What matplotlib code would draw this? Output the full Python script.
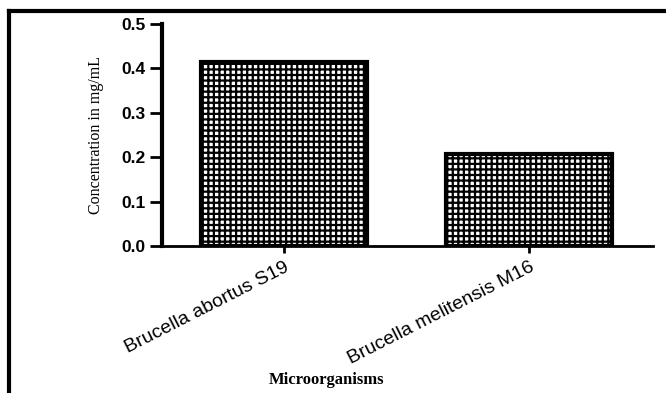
import matplotlib.pyplot as plt
from matplotlib.lines import Line2D

organisms = ["Brucella abortus S19", "Brucella melitensis M16"]
concentration = [0.415, 0.207]
y_ticks = [0.0, 0.1, 0.2, 0.3, 0.4, 0.5]

plt.rcParams["hatch.linewidth"] = 1.6
plt.rcParams["hatch.color"] = "black"

fig = plt.figure(figsize=(6.66, 3.93), dpi=100)
ax = fig.add_axes([0.2432, 0.374, 0.7373, 0.565])

x = list(range(len(organisms)))
ax.bar(x, concentration, width=0.68, color="white", edgecolor="black",
       linewidth=3, hatch="+++")

ax.set_xlim(-0.498, 1.506)
ax.set_ylim(0, 0.5)
ax.set_yticks(y_ticks)
ax.set_yticklabels([f"{v:.1f}" for v in y_ticks], fontfamily="Liberation Sans",
                   fontweight="bold", fontsize=12.5)
ax.set_xticks(x)
ax.set_xticklabels(organisms, rotation=27, ha="right", rotation_mode="anchor",
                   fontfamily="Liberation Sans", fontsize=14)

for side in ["top", "right"]:
    ax.spines[side].set_visible(False)
ax.spines["left"].set_linewidth(3)
ax.spines["bottom"].set_linewidth(2)
ax.tick_params(axis="y", length=9, width=2, pad=3)
ax.tick_params(axis="x", length=5, width=2, pad=4)

ax.set_ylabel("Concentration in mg/mL", fontfamily="Liberation Serif",
              fontsize=11.5, labelpad=12)
fig.text(0.49, 0.033, "Microorganisms", fontfamily="Liberation Serif",
         fontweight="bold", fontsize=12, ha="center", va="center")

# outer frame (left and top edges only visible)
fig.add_artist(Line2D([9 / 666, 9 / 666], [0, 1 - 11 / 393], color="black", lw=3))
fig.add_artist(Line2D([9 / 666, 1], [1 - 11 / 393, 1 - 11 / 393], color="black", lw=3))

fig.savefig("out.png", dpi=100)
